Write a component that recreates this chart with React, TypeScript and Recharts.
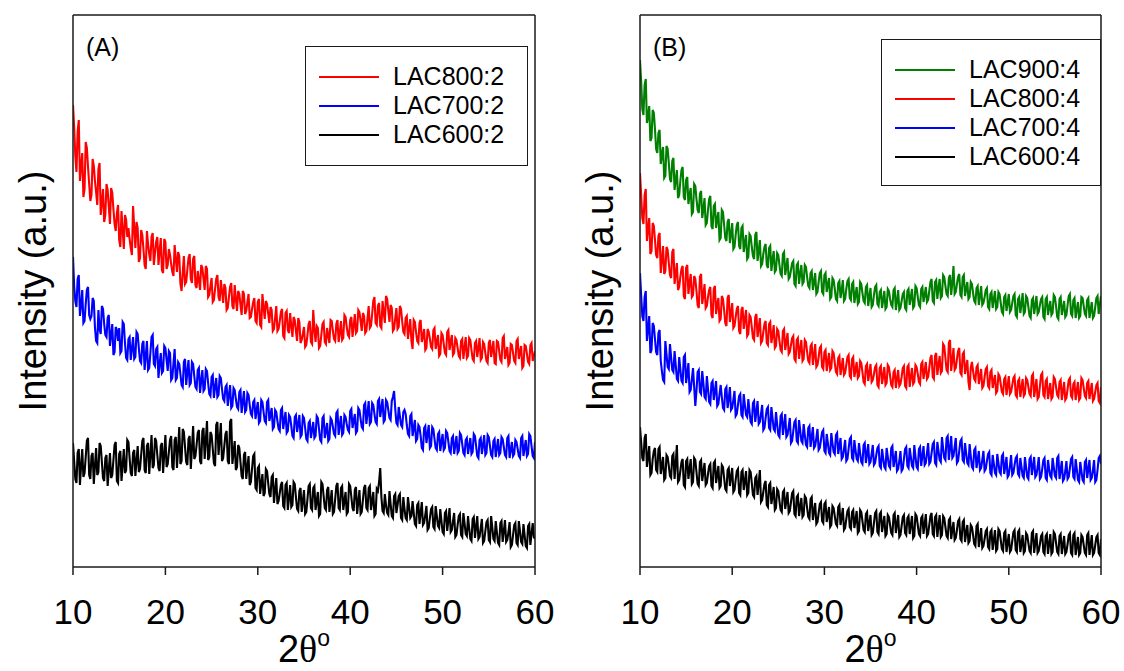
import React from 'react';
import { LineChart, Line, XAxis, YAxis, Legend } from 'recharts';

const FONT = "'Liberation Sans', Arial, Helvetica, sans-serif";
const SERIF = "'Liberation Serif', 'Times New Roman', serif";

// scan grid: 2θ from 10° to 60°, read every 0.125°
const twoTheta: number[] = Array.from({ length: 401 }, (_, i) => 10 + i * 0.125);
const xTicks = [10, 20, 30, 40, 50, 60];
const yDomain: [number, number] = [0, 552]; // arbitrary intensity units

// ---- panel (A) ----
const lac800_2 = [
  462, 440, 411, 395, 435, 447, 386, 401, 414, 370, 378, 425, 419, 400, 383, 366,
  372, 408, 401, 386, 375, 362, 398, 404, 352, 365, 378, 345, 352, 383, 377, 360,
  343, 379, 374, 358, 343, 336, 354, 362, 327, 320, 356, 337, 318, 352, 347, 330,
  339, 328, 319, 312, 361, 340, 319, 345, 339, 305, 309, 337, 332, 318, 302, 298,
  336, 323, 313, 306, 330, 334, 302, 314, 325, 330, 302, 316, 329, 297, 294, 328,
  325, 298, 302, 318, 312, 303, 295, 291, 322, 308, 295, 315, 311, 283, 276, 294,
  311, 283, 285, 297, 309, 313, 288, 284, 308, 311, 282, 279, 296, 287, 277, 302,
  299, 288, 277, 301, 298, 270, 272, 281, 289, 265, 267, 278, 288, 292, 270, 266,
  287, 276, 264, 283, 279, 257, 259, 270, 280, 284, 261, 258, 282, 268, 256, 276,
  273, 262, 252, 276, 273, 253, 256, 265, 273, 249, 250, 258, 265, 269, 246, 244,
  265, 268, 242, 240, 273, 260, 248, 266, 263, 253, 244, 260, 257, 236, 238, 249,
  261, 236, 238, 246, 255, 258, 231, 229, 254, 256, 237, 234, 254, 241, 230, 250,
  247, 236, 226, 249, 245, 224, 227, 233, 240, 220, 222, 232, 243, 246, 225, 223,
  257, 238, 225, 241, 239, 219, 221, 232, 243, 245, 225, 223, 239, 231, 224, 247,
  246, 236, 228, 226, 243, 247, 225, 234, 246, 227, 229, 252, 250, 240, 232, 230,
  247, 250, 230, 241, 253, 234, 236, 257, 255, 246, 236, 254, 251, 234, 236, 249,
  261, 239, 241, 253, 266, 270, 244, 242, 261, 264, 241, 239, 266, 255, 244, 271,
  268, 256, 245, 262, 259, 236, 238, 249, 259, 238, 240, 261, 258, 246, 235, 233,
  249, 251, 228, 238, 248, 226, 218, 247, 245, 235, 226, 224, 244, 247, 225, 231,
  238, 217, 219, 238, 235, 228, 220, 218, 237, 239, 218, 225, 232, 211, 213, 234,
  232, 223, 214, 212, 235, 237, 217, 225, 232, 212, 214, 229, 227, 219, 211, 209,
  226, 228, 208, 219, 230, 209, 211, 229, 227, 217, 208, 206, 224, 226, 210, 219,
  229, 207, 209, 225, 223, 214, 206, 204, 224, 227, 210, 218, 226, 204, 203, 226,
  225, 216, 207, 205, 229, 231, 208, 214, 220, 202, 204, 223, 222, 214, 206, 204,
  226, 228, 208, 215, 221, 199, 201, 222, 221, 213, 205, 203, 222, 224, 206, 211,
  216,
];
const lac700_2 = [
  310, 281, 266, 260, 288, 292, 251, 262, 277, 244, 246, 263, 277, 280, 252, 248,
  251, 269, 266, 240, 226, 224, 257, 238, 233, 261, 258, 243, 232, 230, 249, 252,
  221, 232, 243, 212, 215, 240, 237, 226, 239, 214, 216, 245, 243, 224, 209, 207,
  228, 230, 207, 218, 230, 208, 210, 235, 233, 219, 206, 204, 223, 226, 197, 211,
  226, 197, 199, 214, 230, 232, 203, 201, 218, 220, 189, 203, 214, 194, 196, 221,
  219, 207, 196, 216, 214, 187, 189, 204, 218, 187, 189, 205, 203, 193, 182, 180,
  205, 208, 182, 195, 207, 182, 184, 205, 203, 191, 180, 178, 197, 199, 174, 186,
  197, 176, 178, 198, 196, 184, 173, 171, 190, 192, 169, 180, 189, 170, 172, 191,
  189, 178, 168, 166, 180, 182, 161, 172, 182, 159, 161, 179, 177, 168, 160, 158,
  175, 177, 154, 165, 176, 155, 157, 174, 172, 162, 153, 151, 165, 167, 148, 157,
  165, 144, 146, 167, 165, 155, 146, 144, 165, 167, 146, 152, 159, 138, 140, 157,
  155, 146, 138, 136, 157, 159, 138, 147, 155, 134, 136, 152, 150, 141, 131, 129,
  150, 152, 135, 143, 152, 130, 132, 151, 149, 139, 128, 126, 144, 146, 129, 137,
  145, 129, 131, 151, 149, 138, 127, 125, 149, 151, 129, 136, 144, 126, 128, 149,
  147, 140, 133, 131, 154, 156, 132, 142, 151, 132, 134, 152, 150, 143, 137, 135,
  156, 158, 139, 146, 153, 134, 136, 159, 157, 148, 140, 138, 162, 164, 143, 154,
  166, 143, 145, 164, 162, 153, 145, 143, 166, 168, 150, 159, 168, 145, 147, 167,
  165, 157, 149, 147, 166, 170, 176, 158, 144, 142, 160, 151, 142, 140, 155, 157,
  153, 142, 133, 131, 151, 153, 131, 139, 147, 126, 128, 142, 140, 131, 119, 117,
  139, 141, 124, 133, 142, 119, 121, 140, 138, 128, 119, 117, 133, 135, 116, 125,
  133, 117, 119, 136, 134, 125, 116, 114, 129, 131, 113, 122, 131, 114, 116, 134,
  132, 123, 114, 112, 127, 129, 113, 121, 129, 113, 115, 133, 131, 121, 111, 109,
  127, 129, 113, 122, 132, 112, 114, 132, 130, 121, 112, 110, 126, 128, 110, 119,
  128, 112, 114, 130, 128, 120, 112, 110, 129, 131, 109, 117, 125, 111, 113, 127,
  125, 118, 111, 109, 129, 131, 111, 119, 127, 111, 113, 133, 131, 121, 111, 109,
  125,
];
const lac600_2 = [
  124, 106, 88, 84, 114, 118, 82, 101, 118, 90, 94, 110, 126, 129, 92, 88,
  111, 114, 83, 101, 119, 92, 95, 124, 121, 105, 89, 86, 109, 112, 81, 97,
  114, 89, 92, 107, 122, 125, 86, 84, 113, 116, 86, 102, 118, 94, 97, 127,
  125, 109, 94, 91, 114, 117, 91, 106, 121, 95, 98, 112, 126, 129, 97, 94,
  121, 124, 93, 112, 132, 99, 102, 129, 126, 112, 99, 96, 121, 124, 94, 113,
  132, 100, 103, 115, 127, 131, 100, 97, 127, 130, 99, 119, 140, 103, 106, 138,
  135, 120, 105, 102, 128, 131, 98, 119, 141, 108, 111, 122, 134, 137, 106, 103,
  136, 139, 108, 127, 146, 107, 110, 135, 132, 118, 104, 101, 142, 145, 112, 128,
  144, 106, 109, 121, 133, 136, 106, 103, 145, 148, 103, 114, 126, 97, 100, 122,
  119, 105, 91, 88, 112, 115, 88, 100, 111, 82, 85, 98, 111, 113, 79, 77,
  99, 101, 73, 83, 93, 71, 74, 98, 96, 84, 73, 70, 90, 92, 64, 77,
  89, 63, 66, 74, 82, 85, 61, 59, 82, 84, 57, 69, 82, 60, 62, 85,
  83, 70, 58, 56, 76, 79, 55, 66, 77, 53, 55, 68, 81, 83, 59, 57,
  79, 81, 57, 66, 75, 51, 53, 85, 83, 71, 59, 57, 77, 80, 55, 66,
  77, 53, 55, 68, 81, 84, 59, 57, 79, 81, 57, 66, 75, 53, 55, 83,
  81, 70, 59, 56, 77, 80, 53, 65, 77, 53, 55, 67, 79, 82, 59, 57,
  79, 81, 57, 66, 75, 51, 53, 78, 76, 85, 99, 70, 56, 54, 73, 62,
  54, 52, 76, 63, 51, 49, 71, 73, 54, 62, 71, 73, 49, 47, 70, 58,
  49, 47, 70, 60, 49, 51, 66, 54, 43, 41, 62, 64, 43, 54, 65, 42,
  44, 52, 61, 37, 39, 49, 58, 60, 40, 38, 61, 51, 41, 39, 58, 46,
  35, 33, 54, 56, 36, 47, 59, 35, 37, 46, 54, 30, 32, 42, 51, 53,
  32, 30, 54, 44, 33, 31, 51, 39, 28, 26, 48, 50, 29, 40, 51, 28,
  30, 39, 48, 24, 26, 36, 45, 47, 27, 25, 51, 40, 28, 26, 46, 35,
  24, 22, 44, 46, 25, 36, 47, 25, 27, 35, 45, 20, 22, 32, 42, 44,
  24, 22, 46, 36, 25, 23, 43, 32, 21, 19, 41, 43, 22, 33, 44, 30,
  28,
];

// ---- panel (B) ----
const lac900_4 = [
  507, 486, 458, 452, 482, 488, 444, 450, 461, 426, 429, 457, 454, 438, 418, 414,
  434, 437, 403, 412, 420, 389, 391, 421, 418, 404, 388, 385, 406, 409, 377, 387,
  397, 369, 372, 386, 397, 400, 370, 367, 387, 390, 363, 372, 379, 353, 355, 383,
  381, 368, 357, 354, 373, 376, 349, 358, 369, 342, 344, 357, 368, 371, 341, 338,
  361, 363, 339, 348, 355, 327, 329, 357, 355, 342, 329, 326, 345, 348, 324, 333,
  344, 318, 320, 332, 342, 345, 321, 318, 339, 341, 315, 324, 332, 308, 310, 333,
  331, 320, 311, 308, 332, 335, 306, 316, 327, 301, 303, 313, 320, 323, 302, 299,
  319, 321, 296, 307, 316, 295, 297, 314, 312, 302, 293, 291, 313, 315, 292, 300,
  309, 288, 290, 297, 304, 306, 283, 281, 302, 304, 283, 293, 302, 283, 285, 302,
  300, 290, 281, 279, 294, 296, 277, 285, 294, 273, 275, 285, 294, 296, 275, 273,
  292, 294, 275, 282, 289, 268, 270, 289, 287, 278, 268, 266, 284, 286, 269, 277,
  287, 266, 268, 278, 286, 288, 269, 267, 283, 285, 264, 272, 280, 263, 265, 285,
  283, 274, 266, 264, 280, 282, 261, 270, 279, 260, 262, 272, 280, 282, 263, 261,
  275, 277, 259, 267, 276, 258, 260, 278, 276, 268, 262, 260, 277, 279, 257, 266,
  277, 257, 259, 266, 273, 275, 259, 257, 276, 278, 262, 270, 278, 259, 261, 281,
  279, 270, 262, 260, 278, 280, 265, 272, 280, 265, 267, 276, 285, 288, 266, 264,
  285, 287, 268, 279, 288, 269, 271, 292, 290, 281, 273, 271, 289, 292, 272, 284,
  301, 273, 275, 283, 290, 293, 272, 270, 290, 292, 271, 278, 285, 268, 270, 285,
  283, 274, 266, 264, 279, 281, 262, 271, 281, 262, 264, 270, 277, 279, 260, 258,
  273, 275, 259, 268, 276, 258, 260, 275, 273, 264, 255, 253, 270, 272, 256, 264,
  273, 255, 257, 264, 271, 273, 252, 250, 268, 270, 254, 263, 274, 253, 255, 271,
  269, 260, 251, 249, 267, 269, 253, 262, 271, 253, 255, 262, 268, 270, 250, 248,
  268, 270, 252, 259, 266, 252, 254, 272, 270, 261, 250, 248, 268, 270, 252, 259,
  266, 250, 252, 262, 271, 273, 253, 251, 267, 269, 249, 257, 265, 249, 251, 270,
  269, 261, 253, 251, 267, 269, 249, 257, 265, 249, 251, 260, 269, 271, 253, 262,
  271,
];
const lac800_4 = [
  394, 372, 349, 343, 372, 378, 326, 338, 349, 313, 316, 344, 341, 327, 312, 309,
  331, 334, 294, 307, 321, 293, 296, 320, 317, 304, 292, 289, 315, 318, 283, 293,
  304, 277, 280, 290, 298, 301, 271, 268, 299, 302, 273, 284, 293, 270, 272, 291,
  288, 276, 262, 259, 290, 293, 263, 272, 283, 259, 261, 270, 277, 280, 252, 249,
  278, 281, 253, 262, 269, 246, 248, 271, 268, 257, 244, 241, 269, 272, 245, 254,
  264, 239, 241, 250, 258, 261, 236, 233, 257, 260, 238, 248, 257, 231, 233, 252,
  250, 240, 229, 227, 250, 253, 230, 239, 249, 224, 226, 235, 243, 246, 224, 222,
  243, 245, 224, 232, 242, 219, 221, 238, 236, 226, 217, 215, 236, 238, 217, 225,
  234, 213, 215, 222, 229, 231, 208, 206, 227, 229, 208, 218, 227, 206, 208, 227,
  225, 215, 206, 204, 221, 223, 202, 212, 223, 200, 202, 210, 219, 221, 200, 198,
  215, 217, 196, 205, 214, 197, 199, 216, 214, 204, 195, 193, 209, 211, 192, 200,
  209, 192, 194, 202, 210, 212, 191, 189, 208, 210, 190, 197, 205, 189, 191, 206,
  204, 195, 185, 183, 201, 203, 186, 194, 203, 185, 187, 193, 200, 202, 182, 180,
  199, 201, 183, 191, 200, 182, 184, 202, 200, 191, 182, 180, 195, 197, 179, 188,
  197, 181, 183, 190, 199, 201, 181, 179, 200, 202, 180, 190, 199, 183, 185, 202,
  200, 193, 185, 183, 203, 205, 188, 196, 205, 188, 190, 199, 209, 212, 190, 188,
  211, 214, 192, 202, 211, 194, 196, 223, 221, 209, 197, 195, 224, 227, 196, 207,
  219, 197, 199, 208, 216, 219, 194, 192, 213, 215, 193, 200, 207, 185, 177, 199,
  205, 196, 188, 186, 200, 202, 183, 190, 198, 179, 181, 190, 198, 200, 181, 179,
  195, 197, 179, 186, 192, 174, 176, 193, 191, 183, 175, 173, 188, 190, 172, 181,
  191, 173, 175, 182, 189, 191, 172, 170, 186, 188, 170, 179, 188, 171, 173, 189,
  187, 180, 173, 171, 191, 193, 170, 179, 188, 168, 170, 181, 192, 194, 172, 170,
  186, 188, 168, 176, 184, 168, 170, 190, 188, 180, 172, 170, 185, 187, 167, 176,
  185, 167, 169, 178, 187, 189, 171, 169, 183, 185, 167, 176, 185, 167, 169, 189,
  187, 179, 171, 169, 184, 186, 168, 176, 184, 166, 168, 175, 182, 184, 166, 164,
  180,
];
const lac700_4 = [
  294, 272, 251, 246, 270, 276, 226, 238, 251, 214, 217, 244, 241, 228, 215, 212,
  234, 237, 206, 196, 187, 185, 226, 213, 200, 198, 223, 210, 197, 195, 216, 202,
  188, 186, 210, 198, 186, 184, 210, 212, 184, 193, 204, 175, 177, 188, 199, 180,
  161, 176, 195, 197, 175, 173, 196, 184, 170, 168, 191, 178, 165, 163, 184, 186,
  167, 176, 186, 161, 163, 173, 182, 170, 159, 157, 178, 180, 159, 168, 180, 157,
  159, 167, 176, 151, 153, 162, 171, 173, 152, 150, 173, 162, 152, 150, 168, 156,
  145, 143, 164, 166, 145, 155, 166, 143, 145, 153, 162, 137, 139, 149, 158, 160,
  139, 137, 160, 149, 138, 136, 155, 143, 132, 130, 151, 153, 132, 142, 153, 130,
  132, 140, 149, 124, 126, 136, 145, 147, 126, 124, 147, 137, 126, 124, 143, 132,
  122, 120, 139, 141, 120, 130, 140, 119, 121, 129, 138, 117, 119, 127, 135, 137,
  116, 114, 133, 124, 114, 112, 134, 124, 115, 113, 132, 134, 113, 121, 129, 108,
  110, 118, 127, 106, 108, 118, 128, 130, 109, 107, 127, 117, 108, 106, 124, 114,
  105, 103, 122, 124, 104, 113, 123, 103, 105, 113, 122, 102, 104, 112, 119, 121,
  101, 99, 118, 109, 100, 98, 119, 110, 101, 99, 119, 121, 100, 108, 116, 96,
  98, 106, 116, 96, 98, 108, 118, 120, 101, 99, 119, 110, 101, 99, 122, 111,
  100, 98, 118, 120, 101, 111, 121, 102, 104, 114, 124, 103, 105, 114, 123, 125,
  104, 102, 125, 116, 107, 105, 130, 119, 109, 107, 129, 131, 107, 119, 131, 109,
  111, 120, 129, 104, 106, 116, 126, 128, 107, 105, 124, 114, 104, 102, 123, 111,
  100, 98, 117, 119, 99, 107, 116, 97, 99, 107, 116, 96, 98, 106, 113, 115,
  94, 92, 112, 103, 94, 92, 113, 104, 95, 93, 111, 113, 93, 101, 110, 90,
  92, 101, 112, 92, 94, 102, 109, 111, 93, 91, 109, 100, 91, 89, 110, 100,
  90, 88, 108, 110, 92, 101, 110, 90, 92, 100, 110, 88, 90, 98, 107, 109,
  89, 87, 107, 98, 91, 89, 109, 100, 91, 89, 109, 111, 88, 97, 106, 86,
  88, 96, 106, 88, 90, 99, 108, 110, 90, 88, 108, 98, 87, 85, 105, 96,
  87, 85, 105, 107, 89, 98, 107, 87, 89, 97, 107, 85, 87, 97, 109, 111,
  103,
];
const lac600_4 = [
  140, 125, 109, 106, 129, 133, 100, 110, 121, 92, 94, 108, 116, 119, 97, 95,
  118, 120, 93, 101, 110, 87, 89, 112, 110, 101, 91, 89, 111, 113, 88, 104,
  122, 85, 87, 96, 105, 108, 82, 80, 106, 108, 88, 98, 108, 83, 85, 109,
  107, 95, 83, 81, 105, 107, 86, 95, 104, 82, 84, 93, 101, 103, 81, 79,
  104, 106, 84, 92, 101, 79, 81, 102, 100, 89, 78, 76, 97, 99, 81, 90,
  99, 75, 77, 87, 96, 98, 74, 72, 95, 97, 77, 86, 96, 72, 74, 97,
  95, 84, 72, 70, 89, 91, 72, 84, 97, 65, 67, 75, 83, 86, 62, 60,
  82, 84, 63, 71, 80, 57, 59, 78, 76, 66, 57, 55, 75, 77, 58, 66,
  75, 54, 56, 65, 74, 76, 53, 51, 70, 72, 51, 60, 69, 50, 52, 71,
  69, 59, 50, 48, 68, 70, 47, 56, 64, 43, 45, 54, 63, 65, 46, 44,
  63, 65, 45, 52, 60, 40, 42, 61, 59, 51, 43, 41, 60, 62, 42, 50,
  59, 37, 39, 48, 56, 58, 40, 38, 55, 57, 39, 47, 56, 34, 36, 57,
  55, 46, 37, 35, 53, 55, 36, 44, 52, 32, 34, 44, 54, 56, 35, 33,
  53, 55, 35, 43, 51, 31, 33, 52, 50, 42, 34, 32, 52, 54, 34, 43,
  52, 30, 32, 41, 50, 52, 34, 32, 49, 51, 33, 42, 51, 29, 31, 53,
  51, 42, 33, 31, 49, 51, 33, 43, 53, 31, 33, 42, 51, 54, 33, 31,
  50, 52, 30, 41, 52, 30, 32, 51, 49, 40, 31, 29, 47, 49, 28, 37,
  45, 27, 29, 37, 46, 48, 28, 26, 45, 47, 25, 34, 42, 24, 26, 42,
  40, 32, 23, 21, 41, 43, 20, 29, 39, 19, 21, 28, 36, 38, 20, 18,
  35, 37, 17, 27, 37, 16, 18, 38, 36, 27, 18, 16, 34, 36, 15, 24,
  33, 15, 17, 26, 35, 37, 17, 15, 35, 37, 15, 23, 32, 14, 16, 34,
  32, 24, 16, 14, 34, 36, 14, 24, 34, 14, 16, 23, 31, 33, 15, 13,
  31, 33, 13, 23, 33, 13, 15, 35, 33, 24, 15, 13, 31, 33, 13, 22,
  31, 13, 15, 23, 32, 34, 14, 12, 32, 34, 12, 21, 30, 12, 14, 32,
  30, 22, 14, 12, 32, 34, 12, 22, 32, 12, 14, 22, 30, 32, 14, 12,
  28,
];

interface SeriesDef {
  key: string;
  name: string;
  color: string;
  values: number[];
}

const seriesA: SeriesDef[] = [
  { key: 'lac800_2', name: 'LAC800:2', color: '#ff0000', values: lac800_2 },
  { key: 'lac700_2', name: 'LAC700:2', color: '#0000ff', values: lac700_2 },
  { key: 'lac600_2', name: 'LAC600:2', color: '#000000', values: lac600_2 },
];

const seriesB: SeriesDef[] = [
  { key: 'lac900_4', name: 'LAC900:4', color: '#008000', values: lac900_4 },
  { key: 'lac800_4', name: 'LAC800:4', color: '#ff0000', values: lac800_4 },
  { key: 'lac700_4', name: 'LAC700:4', color: '#0000ff', values: lac700_4 },
  { key: 'lac600_4', name: 'LAC600:4', color: '#000000', values: lac600_4 },
];

const toRows = (series: SeriesDef[]) =>
  twoTheta.map((t, i) => {
    const row: Record<string, number> = { t };
    series.forEach((s) => {
      row[s.key] = s.values[i];
    });
    return row;
  });

const AXIS = { stroke: '#1a1a1a', strokeWidth: 1.5 };

// x title: "2θ°" with a serif theta
const XTitle = ({ viewBox }: any) => {
  const cx = viewBox.x + viewBox.width / 2;
  return (
    <text x={cx} y={viewBox.y + 95} textAnchor="middle" fontSize={38} fontFamily={FONT} fill="#000">
      2<tspan fontFamily={SERIF}>θ</tspan>
      <tspan fontSize={23} dy={-16}>o</tspan>
    </text>
  );
};

const YTitle = ({ viewBox }: any) => {
  const x = viewBox.x - 39;
  const y = viewBox.y + viewBox.height / 2;
  return (
    <text
      x={x}
      y={y}
      transform={`rotate(-90, ${x}, ${y})`}
      textAnchor="middle"
      dominantBaseline="central"
      fontSize={38}
      fontFamily={FONT}
      fill="#000"
    >
      Intensity (a.u.)
    </text>
  );
};

// legend rows follow the series list (Recharts would sort them by name)
const LegendBox = ({ payload, series }: any) => {
  const names = (payload || []).map((p: any) => p.value);
  const items = (series as SeriesDef[]).filter((s) => names.length === 0 || names.includes(s.name));
  return (
    <div
      style={{
        width: '100%',
        height: '100%',
        boxSizing: 'border-box',
        border: '1.5px solid #1a1a1a',
        background: '#fff',
        paddingTop: 15,
      }}
    >
      {items.map((s) => (
        <div key={s.key} style={{ display: 'flex', alignItems: 'center', height: 29 }}>
          <div style={{ width: 60, height: 2, background: s.color, marginLeft: 13, marginRight: 14 }} />
          <span style={{ fontSize: 25, fontFamily: FONT, color: '#000', lineHeight: '29px' }}>{s.name}</span>
        </div>
      ))}
    </div>
  );
};

interface PanelProps {
  left: number;
  width: number;
  margin: { top: number; right: number; bottom: number; left: number };
  series: SeriesDef[];
  tag: string;
  legendBox: { left: number; top: number; width: number; height: number };
}

function XrdPanel({ left, width, margin, series, tag, legendBox }: PanelProps) {
  const data = toRows(series);
  return (
    <div style={{ position: 'absolute', left, top: 0, width, height: 671 }}>
      <LineChart width={width} height={671} data={data} margin={margin}>
        <XAxis
          xAxisId="bottom"
          dataKey="t"
          type="number"
          domain={[10, 60]}
          allowDataOverflow
          ticks={xTicks}
          interval={0}
          height={100}
          tickSize={8}
          tickMargin={24}
          axisLine={AXIS}
          tickLine={AXIS}
          tick={{ fill: '#000', fontSize: 35, fontFamily: FONT }}
          label={<XTitle />}
        />
        <XAxis
          xAxisId="top"
          orientation="top"
          dataKey="t"
          type="number"
          domain={[10, 60]}
          allowDataOverflow
          height={1}
          tick={false}
          tickLine={false}
          axisLine={AXIS}
        />
        <YAxis
          yAxisId="left"
          type="number"
          domain={yDomain}
          allowDataOverflow
          width={1}
          tick={false}
          tickLine={false}
          axisLine={AXIS}
          label={<YTitle />}
        />
        <YAxis
          yAxisId="right"
          orientation="right"
          type="number"
          domain={yDomain}
          allowDataOverflow
          width={1}
          tick={false}
          tickLine={false}
          axisLine={AXIS}
        />
        <Legend
          layout="vertical"
          align="center"
          verticalAlign="middle"
          wrapperStyle={{ ...legendBox }}
          content={(props: any) => <LegendBox {...props} series={series} />}
        />
        {series.map((s) => (
          <Line
            key={s.key}
            xAxisId="bottom"
            yAxisId="left"
            type="linear"
            dataKey={s.key}
            name={s.name}
            stroke={s.color}
            strokeWidth={2.1}
            dot={false}
            isAnimationActive={false}
          />
        ))}
      </LineChart>
      <div
        style={{
          position: 'absolute',
          left: margin.left + 14,
          top: 35,
          fontSize: 25,
          lineHeight: '25px',
          fontFamily: FONT,
          color: '#000',
        }}
      >
        {tag}
      </div>
    </div>
  );
}

export default function App() {
  return (
    <div style={{ position: 'absolute', left: 0, top: 0, width: 1124, height: 671, background: '#fff' }}>
      <XrdPanel
        left={0}
        width={560}
        margin={{ top: 14, right: 24, bottom: 4, left: 72 }}
        series={seriesA}
        tag="(A)"
        legendBox={{ left: 305, top: 46, width: 223, height: 120 }}
      />
      <XrdPanel
        left={560}
        width={564}
        margin={{ top: 14, right: 22, bottom: 4, left: 79 }}
        series={seriesB}
        tag="(B)"
        legendBox={{ left: 321, top: 39, width: 220, height: 147 }}
      />
    </div>
  );
}
